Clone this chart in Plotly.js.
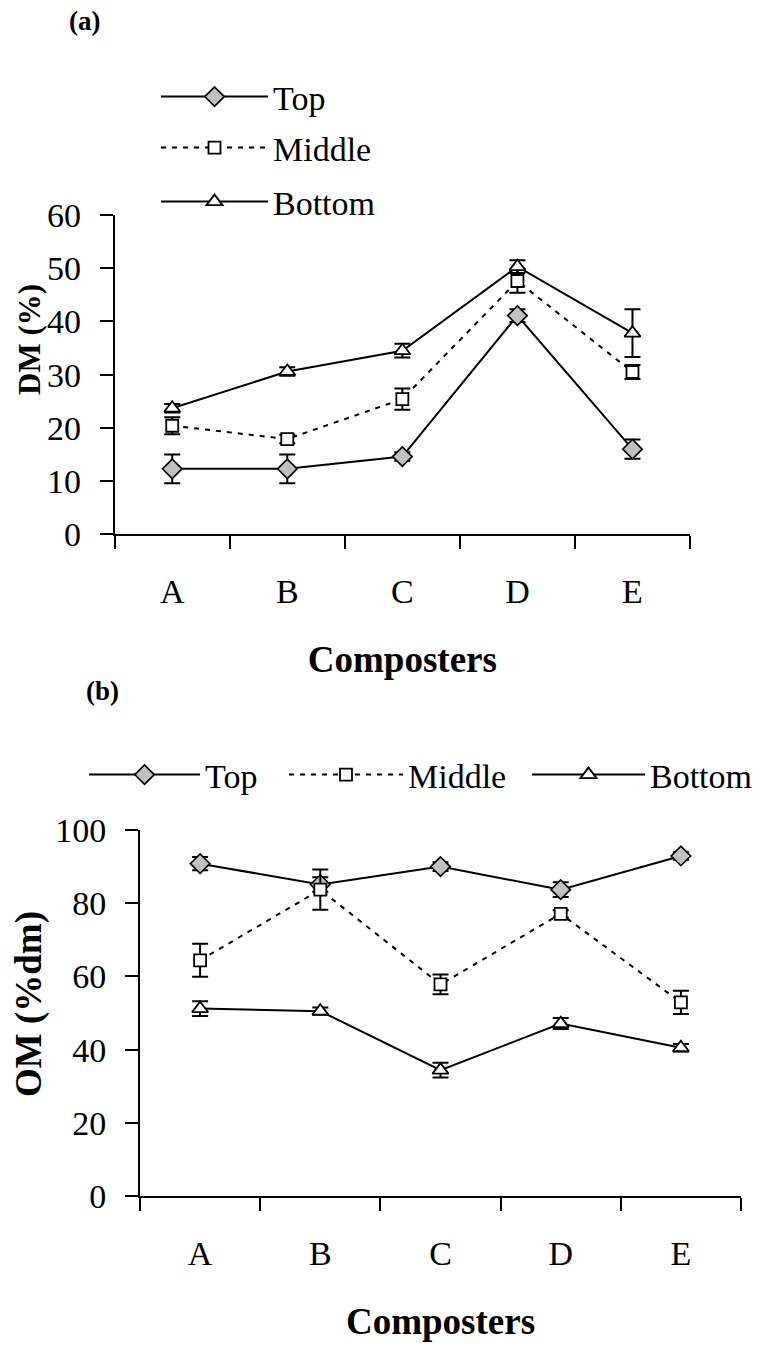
<!DOCTYPE html>
<html>
<head>
<meta charset="utf-8">
<script src="https://cdn.plot.ly/plotly-3.0.1.min.js"></script>
<style>html,body{margin:0;padding:0;background:#fff;}#chart{width:768px;height:1352px;}</style>
</head>
<body>
<div id="chart"></div>
<script>
// Categories
var composters = ['A', 'B', 'C', 'D', 'E'];
var seriesNames = ['Top', 'Middle', 'Bottom'];

// (a) Dry matter, DM (%)
var dmTop = [12.3, 12.3, 14.6, 41.1, 16.0];
var dmTopErr = [2.7, 2.7, 0.8, 1.2, 1.8];
var dmMiddle = [20.4, 17.9, 25.4, 47.6, 30.5];
var dmMiddleErr = [1.6, 0.8, 2.0, 2.2, 1.3];
var dmBottom = [23.7, 30.6, 34.5, 50.3, 37.8];
var dmBottomErr = [0.8, 0.8, 1.3, 1.2, 4.5];

// (b) Organic matter, OM (%dm)
var omTop = [90.8, 85.1, 90.0, 83.7, 92.9];
var omTopErr = [1.8, 2.0, 1.2, 2.0, 1.0];
var omMiddle = [64.4, 83.7, 57.8, 77.1, 52.9];
var omMiddleErr = [4.5, 5.5, 2.7, 1.0, 3.2];
var omBottom = [51.2, 50.5, 34.4, 47.1, 40.5];
var omBottomErr = [2.0, 1.0, 2.0, 1.5, 1.0];

// Axis ticks
var dmTicks = [0, 10, 20, 30, 40, 50, 60];
var omTicks = [0, 20, 40, 60, 80, 100];

var FONT = 'Liberation Serif';

var styles = {
  Top: {line: {color: '#000', width: 2, dash: 'solid'},
        marker: {symbol: 'diamond', size: 15, color: '#c0c0c0', line: {color: '#000', width: 1.6}}},
  Middle: {line: {color: '#000', width: 2, dash: '5px,6px'},
        marker: {symbol: 'square', size: 12, color: '#fff', line: {color: '#000', width: 1.8}}},
  Bottom: {line: {color: '#000', width: 2, dash: 'solid'},
        marker: {symbol: 'triangle-up', size: 14, color: '#fff', line: {color: '#000', width: 1.8}}}
};

function mk(name, y, err, xa, ya, leg) {
  return {
    type: 'scatter', mode: 'lines+markers', name: name, showlegend: true,
    x: composters, y: y, xaxis: xa, yaxis: ya, legend: leg,
    line: styles[name].line, marker: styles[name].marker,
    error_y: {type: 'data', array: err, visible: true, color: '#000', thickness: 2, width: 8},
    cliponaxis: false
  };
}

var data = [
  mk('Top', dmTop, dmTopErr, 'x', 'y', 'legend'),
  mk('Middle', dmMiddle, dmMiddleErr, 'x', 'y', 'legend2'),
  mk('Bottom', dmBottom, dmBottomErr, 'x', 'y', 'legend3'),
  mk('Top', omTop, omTopErr, 'x2', 'y2', 'legend4'),
  mk('Middle', omMiddle, omMiddleErr, 'x2', 'y2', 'legend5'),
  mk('Bottom', omBottom, omBottomErr, 'x2', 'y2', 'legend6')
];

function xAxis(domain, anchor, standoff) {
  return {
    domain: domain, anchor: anchor, type: 'category', range: [-0.5, 4.5],
    categoryorder: 'array', categoryarray: composters,
    tickson: 'boundaries', ticks: 'outside', ticklen: 13, tickwidth: 2, tickcolor: '#000',
    showline: true, linewidth: 2, linecolor: '#000', showgrid: false, zeroline: false,
    tickfont: {family: FONT, size: 34, color: '#000'}, ticklabelstandoff: 26,
    title: {text: 'Composters', standoff: standoff, font: {family: FONT, size: 37, color: '#000', weight: 'bold'}},
    fixedrange: true
  };
}
function yAxis(domain, anchor, range, ticks) {
  return {
    domain: domain, anchor: anchor, range: range, tickvals: ticks,
    ticks: 'outside', ticklen: 13, tickwidth: 2, tickcolor: '#000',
    showline: true, linewidth: 2, linecolor: '#000', showgrid: false, zeroline: false,
    tickfont: {family: FONT, size: 34, color: '#000'}, ticklabelstandoff: 12,
    fixedrange: true
  };
}

var H = 1352, W = 768;
function leg(x, yc, iw) {
  return {
    visible: true,
    x: x / W, y: 1 - yc / H, xanchor: 'left', yanchor: 'middle',
    orientation: 'v', bgcolor: 'rgba(0,0,0,0)', borderwidth: 0,
    itemwidth: iw, font: {family: FONT, size: 34, color: '#000'}
  };
}

var layout = {
  width: W, height: H,
  showlegend: true,
  margin: {l: 0, r: 0, t: 0, b: 0},
  paper_bgcolor: '#fff', plot_bgcolor: '#fff',
  font: {family: FONT, color: '#000'},
  xaxis: xAxis([114.7 / W, 690 / W], 'y', 37),
  yaxis: yAxis([1 - 534.3 / H, 1 - 215 / H], 'x', [0, 60], dmTicks),
  xaxis2: xAxis([140 / W, 741 / W], 'y2', 37),
  yaxis2: yAxis([1 - 1196 / H, 1 - 830 / H], 'x2', [0, 100], omTicks),
  legend: leg(156, 97, 107),
  legend2: leg(156, 148, 107),
  legend3: leg(156, 202, 107),
  legend4: leg(84, 775, 111),
  legend5: leg(284, 775, 114),
  legend6: leg(527, 775, 113),
  annotations: [
    {text: '(a)', xref: 'paper', yref: 'paper', x: 84 / W, y: 1 - 21 / H, showarrow: false,
     xanchor: 'center', yanchor: 'middle', font: {family: FONT, size: 27, color: '#000', weight: 'bold'}},
    {text: '(b)', xref: 'paper', yref: 'paper', x: 102 / W, y: 1 - 691 / H, showarrow: false,
     xanchor: 'center', yanchor: 'middle', font: {family: FONT, size: 27, color: '#000', weight: 'bold'}},
    {text: 'DM (%)', xref: 'paper', yref: 'paper', x: 29 / W, y: 1 - 340 / H, showarrow: false,
     textangle: -90, xanchor: 'center', yanchor: 'middle', font: {family: FONT, size: 31, color: '#000', weight: 'bold'}},
    {text: 'OM (%dm)', xref: 'paper', yref: 'paper', x: 29 / W, y: 1 - 1004 / H, showarrow: false,
     textangle: -90, xanchor: 'center', yanchor: 'middle', font: {family: FONT, size: 37, color: '#000', weight: 'bold'}}
  ]
};

Plotly.newPlot('chart', data, layout, {staticPlot: true, displayModeBar: false});
</script>
</body>
</html>
